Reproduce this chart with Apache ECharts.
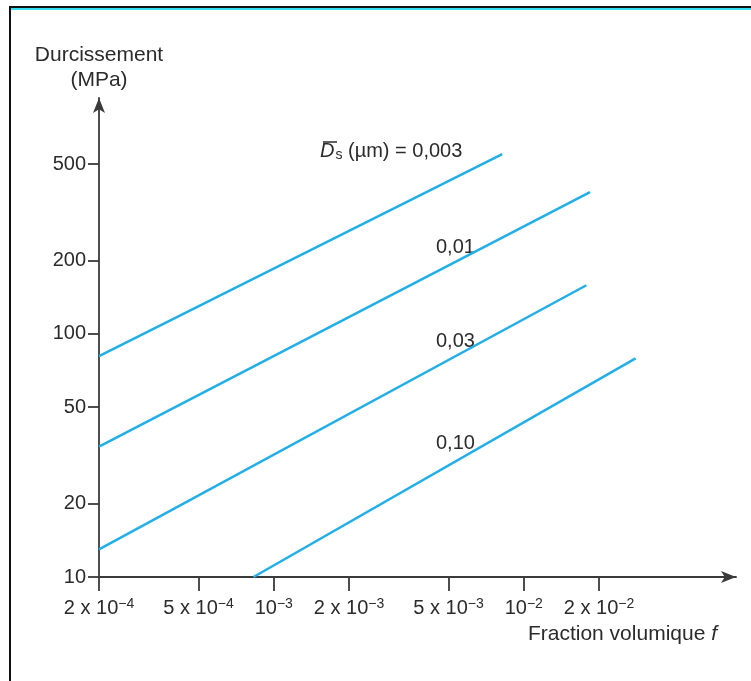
<!DOCTYPE html>
<html>
<head>
<meta charset="utf-8">
<script src="https://cdn.jsdelivr.net/npm/echarts@6/dist/echarts.min.js"></script>
<style>
html,body{margin:0;padding:0;background:#fff;}
#chart{width:751px;height:681px;}
</style>
</head>
<body>
<div id="chart"></div>
<script>
// ---- data ----
const xTickValues = [2e-4, 5e-4, 1e-3, 2e-3, 5e-3, 1e-2, 2e-2];
const xTickMantissa = ['2 x 10', '5 x 10', '10', '2 x 10', '5 x 10', '10', '2 x 10'];
const xTickExponent = ['−4', '−4', '−3', '−3', '−3', '−2', '−2'];
const yTickValues = [10, 20, 50, 100, 200, 500];

const diameterLabels = ['0,003', '0,01', '0,03', '0,10'];
// volume fraction f (start, end) and hardening (MPa) for each mean diameter Ds
const f_0003 = [2e-4, 8.2e-3];
const h_0003 = [81, 550];
const f_001 = [2e-4, 1.84e-2];
const h_001 = [34.4, 383];
const f_003 = [2e-4, 1.78e-2];
const h_003 = [13, 158.6];
const f_010 = [8.3e-4, 2.8e-2];
const h_010 = [10, 79.4];

const FONT = 'Liberation Sans, Arial, sans-serif';
const TXT = '#2b2b2b';
const AX = '#3a3a3a';
const LINE = '#22aee6';

function pairs(fs, hs) { return fs.map((f, i) => [f, hs[i]]); }
const seriesData = [pairs(f_0003, h_0003), pairs(f_001, h_001), pairs(f_003, h_003), pairs(f_010, h_010)];

function nearestIdx(arr, v) {
  let best = 0, bd = Infinity;
  arr.forEach((a, i) => { const d = Math.abs(Math.log10(a) - Math.log10(v)); if (d < bd) { bd = d; best = i; } });
  return best;
}

const chart = echarts.init(document.getElementById('chart'), null, { renderer: 'canvas' });
const option = {
  animation: false,
  backgroundColor: '#fff',
  grid: { left: 99, right: 15, top: 98, bottom: 104, containLabel: false, outerBoundsMode: 'none' },
  xAxis: {
    type: 'log',
    min: 2e-4,
    max: 0.0706,
    axisLine: { show: true, lineStyle: { color: AX, width: 1.8 }, symbol: ['none', 'arrow'], symbolSize: [9, 15] },
    axisTick: { show: true, customValues: xTickValues, length: 14, lineStyle: { color: AX, width: 1.8 } },
    splitLine: { show: false },
    minorTick: { show: false },
    axisLabel: {
      customValues: xTickValues,
      margin: 20,
      formatter: function (v) {
        const i = nearestIdx(xTickValues, v);
        return '{b|' + xTickMantissa[i] + '}{s|' + xTickExponent[i] + '}';
      },
      rich: {
        b: { fontSize: 20, fontFamily: FONT, color: TXT },
        s: { fontSize: 14, fontFamily: FONT, color: TXT, padding: [0, 0, 9, 0] }
      }
    }
  },
  yAxis: {
    type: 'log',
    min: 10,
    max: 935,
    name: 'Durcissement\n(MPa)',
    nameLocation: 'end',
    nameGap: 5,
    nameTextStyle: { fontSize: 21, fontFamily: FONT, color: TXT, align: 'center', lineHeight: 25 },
    axisLine: { show: true, lineStyle: { color: AX, width: 1.8 }, symbol: ['none', 'arrow'], symbolSize: [9, 15] },
    axisTick: { show: true, customValues: yTickValues, length: 11, lineStyle: { color: AX, width: 1.8 } },
    splitLine: { show: false },
    axisLabel: {
      customValues: yTickValues,
      margin: 13,
      fontSize: 20, fontFamily: FONT, color: TXT
    }
  },
  series: seriesData.map((d, i) => ({
    type: 'line',
    name: diameterLabels[i],
    data: d,
    symbol: 'none',
    lineStyle: { color: LINE, width: 2.5 },
    silent: true
  })),
  graphic: [
    // frame
    { type: 'rect', shape: { x: 9, y: 6, width: 742, height: 2 }, style: { fill: '#111' } },
    { type: 'rect', shape: { x: 11, y: 8, width: 740, height: 2 }, style: { fill: '#33e0f0' } },
    { type: 'rect', shape: { x: 9, y: 6, width: 2, height: 675 }, style: { fill: '#111' } },
    // annotations
    {
      type: 'text', left: 320, top: 141,
      style: {
        text: '{d|D}{sub|s}{t| (µm) = ' + diameterLabels[0] + '}',
        rich: {
          d: { fontSize: 20, fontFamily: FONT, fontStyle: 'italic', fill: TXT },
          sub: { fontSize: 14, fontFamily: FONT, fill: TXT, padding: [8, 0, 0, 1] },
          t: { fontSize: 20, fontFamily: FONT, fill: TXT }
        }
      }
    },
    { type: 'line', shape: { x1: 323, y1: 142, x2: 337, y2: 142 }, style: { stroke: TXT, lineWidth: 1.5 } },
    { type: 'text', left: 436, top: 237, style: { text: diameterLabels[1], fontSize: 20, fontFamily: FONT, fill: TXT } },
    { type: 'text', left: 436, top: 331, style: { text: diameterLabels[2], fontSize: 20, fontFamily: FONT, fill: TXT } },
    { type: 'text', left: 436, top: 433, style: { text: diameterLabels[3], fontSize: 20, fontFamily: FONT, fill: TXT } },
    {
      type: 'text', right: 34, top: 624,
      style: {
        text: '{a|Fraction volumique }{i|f}',
        rich: {
          a: { fontSize: 21, fontFamily: FONT, fill: TXT },
          i: { fontSize: 21, fontFamily: FONT, fontStyle: 'italic', fill: TXT }
        }
      }
    }
  ]
};
chart.setOption(option);
</script>
</body>
</html>
